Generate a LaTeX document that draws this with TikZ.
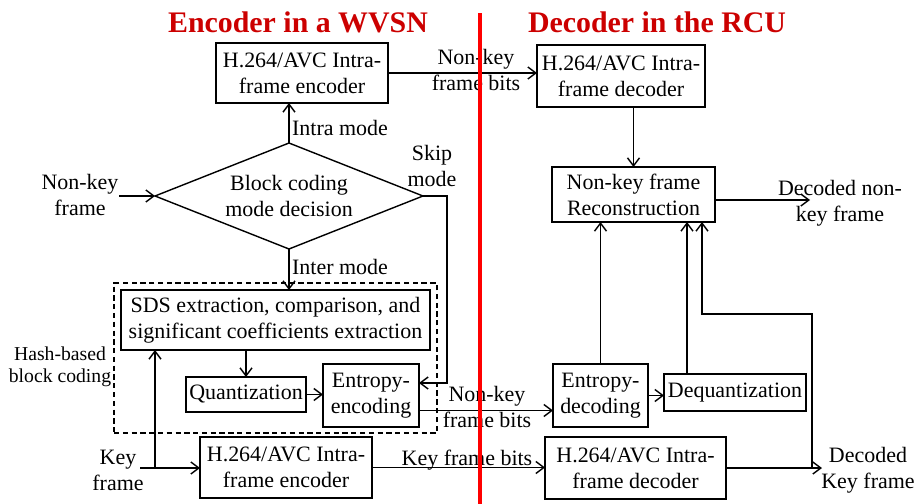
\documentclass[tikz,border=0pt]{standalone}
\usepackage{fontspec}
\setmainfont{Liberation Serif}
\usepackage{xcolor}
\usetikzlibrary{arrows.meta,shapes.geometric}

\definecolor{titlered}{RGB}{204,0,0}

\begin{document}
\begin{tikzpicture}[x=0.02cm,y=-0.02cm,>={Straight Barb[length=1.6mm,width=2.4mm]},line width=0.8pt,
    font=\fontsize{12.5}{14.7}\selectfont,
    block/.style={draw,rectangle,inner sep=0pt,outer sep=0pt,align=center},
    lbl/.style={inner sep=0pt,align=center},
    ttl/.style={inner sep=0pt,text=titlered,font=\fontsize{17}{20}\selectfont\bfseries}]

    \useasboundingbox (0,0) rectangle (917,504);

    % Titles
    \node [ttl] at (298,22) (tenc) {Encoder in a WVSN};
    \node [ttl] at (657,22) (tdec) {Decoder in the RCU};

    % Encoder side
    \node [block,minimum width=3.44cm,minimum height=1.2cm] at (302,73) (enc1) {H.264/AVC Intra-\\frame encoder};
    \node [draw,diamond,aspect=2.53,inner sep=0pt,outer sep=0pt,minimum width=5.36cm,minimum height=2.12cm,align=center] at (289,196) (dia) {Block coding\\mode decision};
    \node [draw,dash pattern=on 3pt off 2pt,minimum width=6.46cm,minimum height=3cm,inner sep=0pt] at (275.5,358) (hbc) {};
    \node [block,minimum width=6.18cm,minimum height=1.2cm] at (275.5,320) (sds) {SDS extraction, comparison, and\\significant coefficients extraction};
    \node [block,minimum width=2.4cm,minimum height=0.7cm] at (246,394.5) (quant) {Quantization};
    \node [block,minimum width=1.92cm,minimum height=1.26cm] at (371,395.5) (entenc) {Entropy-\\encoding};
    \node [block,minimum width=3.44cm,minimum height=1.22cm] at (286,467.5) (enc2) {H.264/AVC Intra-\\frame encoder};

    % Decoder side
    \node [block,minimum width=3.36cm,minimum height=1.24cm] at (621,76) (dec1) {H.264/AVC Intra-\\frame decoder};
    \node [block,minimum width=3.26cm,minimum height=1.1cm] at (633.5,194.5) (rec) {Non-key frame\\Reconstruction};
    \node [block,minimum width=1.9cm,minimum height=1.26cm] at (600.5,395.5) (entdec) {Entropy-\\decoding};
    \node [block,minimum width=2.84cm,minimum height=0.74cm] at (735,392.5) (dequant) {Dequantization};
    \node [block,minimum width=3.62cm,minimum height=1.24cm] at (635.5,468) (dec2) {H.264/AVC Intra-\\frame decoder};

    % Labels
    \node [lbl] at (80,195) (lnk) {Non-key\\frame};
    \node [lbl] at (340,128) (lintra) {Intra mode};
    \node [lbl] at (432,166) (lskip) {Skip\\mode};
    \node [lbl] at (340,267) (linter) {Inter mode};
    \node [lbl,font=\fontsize{11.2}{12.5}\selectfont] at (60,367) (lhash) {Hash-based\\block coding};
    \node [lbl] at (476,70) (lnkb1) {Non-key\\frame bits};
    \node [lbl] at (487,407) (lnkb2) {Non-key\\frame bits};
    \node [lbl] at (467,460) (lkfb) {Key frame bits};
    \node [lbl] at (118,470) (lkey) {Key\\frame};
    \node [lbl] at (840,203) (ldnk) {Decoded non-\\key frame};
    \node [lbl] at (868,470) (ldk) {Decoded\\Key frame};

    \coordinate (sk1) at (447,196);
    \coordinate (sk2) at (447,383);
    \coordinate (dnk) at (810,200);
    \coordinate (dk) at (822,468);
    \coordinate (kb) at (812,468);
    \coordinate (kt) at (812,314);
    \coordinate (kl) at (702,314);
    \coordinate (kf) at (140,468);
    \coordinate (kfb) at (155,468);

    % Connectors
    \path[->]
    (lnk.east |- dia.west) edge (dia.west)
    (dia.north) edge (dia.north |- enc1.south)
    (dia.south) edge (dia.south |- sds.north)
    (quant.north |- sds.south) edge (quant.north)
    (quant.east) edge (quant.east -| entenc.west)
    (enc1.east) edge (enc1.east -| dec1.west)
    (rec.north |- dec1.south) edge (rec.north)
    (rec.east |- dnk) edge (dnk)
    ([yshift=-0.3cm]entenc.east) edge ([yshift=-0.3cm]entdec.west)
    (entdec.east) edge (entdec.east -| dequant.west)
    (entdec.north) edge (entdec.north |- rec.south)
    ([xshift=-0.96cm]dequant.north) edge ([xshift=-0.96cm]dequant.north |- rec.south)
    (kf) edge (kf -| enc2.west)
    (kfb) edge (kfb |- sds.south)
    (enc2.east) edge (enc2.east -| dec2.west)
    (dec2.east |- dk) edge (dk)
    ;

    \draw[->] (dia.east) -- (sk1) -- (sk2) -- (sk2 -| entenc.east);
    \draw[->] (kb) -- (kt) -- (kl) -- (kl |- rec.south);

    % Dividing line
    \draw[red,line width=1.8pt] (480,13) -- (480,504);

\end{tikzpicture}
\end{document}
